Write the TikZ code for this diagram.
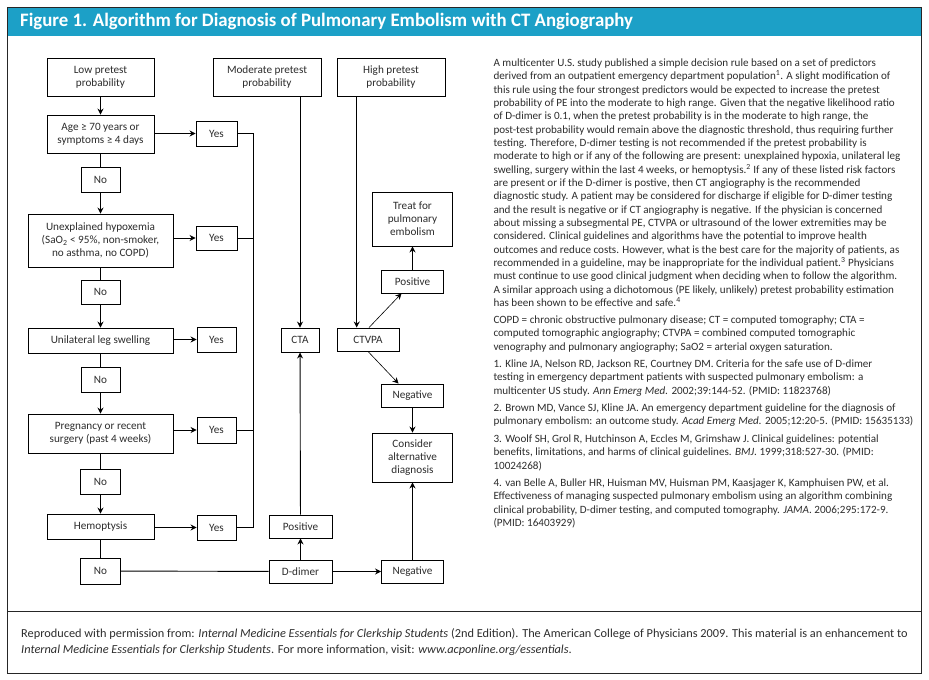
\documentclass[tikz,border=0pt]{standalone}
\usepackage{fontspec}
\setmainfont{Carlito}
\usetikzlibrary{arrows.meta}
\definecolor{titleblue}{RGB}{28,160,199}
\definecolor{txt}{RGB}{45,45,45}
\begin{document}
\begin{tikzpicture}[x=1pt,y=-1pt,
  box/.style={draw=black, line width=0.9pt, inner sep=0pt, align=center, text=txt, font=\fontsize{11.2}{13}\selectfont},
  arr/.style={-{Stealth[length=6pt,width=6pt]}, line width=0.9pt},
  ln/.style={line width=0.9pt},
  body/.style={anchor=north west, inner sep=0pt, align=left, text=txt, font=\fontsize{11.1}{13.33}\selectfont}]
\useasboundingbox (0,0) rectangle (929,680);
\fill[white] (0,0) rectangle (929,680);
\fill[titleblue] (7,7) rectangle (921.5,36);
\draw[line width=1pt, black!85] (7,7) rectangle (921.5,673);
\draw[line width=1pt, black!85] (7,611) -- (921.5,611);
\node[anchor=west, text=white, font=\bfseries\fontsize{19}{19}\selectfont, inner sep=0pt] (title) at (20,21.5)
  {\scalebox{0.99}[1]{Figure 1. Algorithm for Diagnosis of Pulmonary Embolism with CT Angiography}};

% flowchart nodes
\node[box, minimum width=107, minimum height=38] (low) at (100.5,77) {Low pretest\\probability};
\node[box, minimum width=108, minimum height=38] (mod) at (267,77) {Moderate pretest\\probability};
\node[box, minimum width=108, minimum height=38] (high) at (391,77) {High pretest\\probability};
\node[box, minimum width=107, minimum height=38] (age) at (100.5,134) {Age ≥ 70 years or\\symptoms ≥ 4 days};
\node[box, minimum width=41, minimum height=25] (yes1) at (216.5,133.5) {Yes};
\node[box, minimum width=39, minimum height=25] (no1) at (100.5,179.5) {No};
\node[box, minimum width=145, minimum height=53] (hyp) at (100.5,240.5) {Unexplained hypoxemia\\(SaO\textsubscript{2} < 95\%, non-smoker,\\no asthma, no COPD)};
\node[box, minimum width=41, minimum height=24] (yes2) at (216.5,238) {Yes};
\node[box, minimum width=39, minimum height=24] (no2) at (100.5,292) {No};
\node[box, minimum width=145, minimum height=25] (leg) at (100.5,340.5) {Unilateral leg swelling};
\node[box, minimum width=39, minimum height=25] (yes3) at (216.5,339.5) {Yes};
\node[box, minimum width=39, minimum height=25] (no3) at (100.5,379.5) {No};
\node[box, minimum width=145, minimum height=39] (preg) at (100.5,433.5) {Pregnancy or recent\\surgery (past 4 weeks)};
\node[box, minimum width=39, minimum height=26] (yes4) at (216.5,430) {Yes};
\node[box, minimum width=40, minimum height=25] (no4) at (100.5,481.5) {No};
\node[box, minimum width=107, minimum height=25] (hemo) at (100.5,526.5) {Hemoptysis};
\node[box, minimum width=39, minimum height=25] (yes5) at (216.5,527.5) {Yes};
\node[box, minimum width=40, minimum height=26] (no5) at (100.5,571) {No};
\node[box, minimum width=63, minimum height=23] (ddimer) at (300.5,571.5) {D-dimer};
\node[box, minimum width=63, minimum height=23] (pos1) at (300.5,526.5) {Positive};
\node[box, minimum width=62, minimum height=23] (neg1) at (412.5,571.5) {Negative};
\node[box, minimum width=80, minimum height=49] (cons) at (412.5,457.5) {Consider\\alternative\\diagnosis};
\node[box, minimum width=38, minimum height=24] (cta) at (300,340) {CTA};
\node[box, minimum width=62, minimum height=23] (ctvpa) at (368,339.5) {CTVPA};
\node[box, minimum width=80, minimum height=54] (treat) at (412.5,219) {Treat for\\pulmonary\\embolism};
\node[box, minimum width=62, minimum height=23] (pos2) at (412.5,281.5) {Positive};
\node[box, minimum width=62, minimum height=23] (neg2) at (412.5,395.5) {Negative};

\coordinate (c1) at (253,133.5);
\coordinate (c5) at (253,527.5);

% connectors
\draw[arr] (low) -- (age);
\draw[arr] (age.east |- yes1.west) -- (yes1.west);
\draw[ln] (age) -- (no1);
\draw[arr] (no1) -- (hyp);
\draw[arr] (hyp.east |- yes2.west) -- (yes2.west);
\draw[ln] (hyp) -- (no2);
\draw[arr] (no2) -- (leg);
\draw[arr] (leg.east |- yes3.west) -- (yes3.west);
\draw[ln] (leg) -- (no3);
\draw[arr] (no3) -- (preg);
\draw[arr] (preg.east |- yes4.west) -- (yes4.west);
\draw[ln] (preg) -- (no4);
\draw[arr] (no4) -- (hemo);
\draw[arr] (hemo.east |- yes5.west) -- (yes5.west);
\draw[ln] (hemo) -- (no5);
\draw[ln] (no5) -- (ddimer);
\draw[ln] (yes1.east) -- (c1) -- (c5) -- (yes5.east);
\draw[ln] (yes2.east) -- (yes2.east -| c1);
\draw[ln] (yes4.east) -- (yes4.east -| c1);
\draw[arr] (cta.north |- mod.south) -- (cta.north);
\draw[arr] ([xshift=-11.3pt]ctvpa.north |- high.south) -- ([xshift=-11.3pt]ctvpa.north);
\draw[arr, line width=0.6pt] ([xshift=1pt]ctvpa.north) -- ([xshift=-11pt]pos2.south);
\draw[arr, line width=0.6pt] (ctvpa.south) -- ([xshift=-14pt]neg2.north);
\draw[arr] (pos2) -- (treat);
\draw[arr] (neg2) -- (cons);
\draw[arr] (ddimer) -- (pos1);
\draw[arr] (pos1) -- (cta);
\draw[arr] (ddimer) -- (neg1);
\draw[arr] (neg1) -- (cons);

% right-hand text
\node[body] (para) at (493.3,58.5) {A multicenter U.S. study published a simple decision rule based on a set of predictors\\
derived from an outpatient emergency department population\textsuperscript{1}. A slight modification of\\
this rule using the four strongest predictors would be expected to increase the pretest\\
probability of PE into the moderate to high range. Given that the negative likelihood ratio\\
of D-dimer is 0.1, when the pretest probability is in the moderate to high range, the\\
post-test probability would remain above the diagnostic threshold, thus requiring further\\
testing. Therefore, D-dimer testing is not recommended if the pretest probability is\\
moderate to high or if any of the following are present: unexplained hypoxia, unilateral leg\\
swelling, surgery within the last 4 weeks, or hemoptysis.\textsuperscript{2} If any of these listed risk factors\\
are present or if the D-dimer is postive, then CT angiography is the recommended\\
diagnostic study. A patient may be considered for discharge if eligible for D-dimer testing\\
and the result is negative or if CT angiography is negative. If the physician is concerned\\
about missing a subsegmental PE, CTVPA or ultrasound of the lower extremities may be\\
considered. Clinical guidelines and algorithms have the potential to improve health\\
outcomes and reduce costs. However, what is the best care for the majority of patients, as\\
recommended in a guideline, may be inappropriate for the individual patient.\textsuperscript{3} Physicians\\
must continue to use good clinical judgment when deciding when to follow the algorithm.\\
A similar approach using a dichotomous (PE likely, unlikely) pretest probability estimation\\
has been shown to be effective and safe.\textsuperscript{4}};
\node[body] (abbr) at (493.3,315.5) {COPD = chronic obstructive pulmonary disease; CT = computed tomography; CTA =\\
computed tomographic angiography; CTVPA = combined computed tomographic\\
venography and pulmonary angiography; SaO2 = arterial oxygen saturation.};
\node[body] (ref1) at (493.3,359.5) {1. Kline JA, Nelson RD, Jackson RE, Courtney DM. Criteria for the safe use of D-dimer\\
testing in emergency department patients with suspected pulmonary embolism: a\\
multicenter US study. \textit{Ann Emerg Med.} 2002;39:144-52. (PMID: 11823768)};
\node[body] (ref2) at (493.3,403.5) {2. Brown MD, Vance SJ, Kline JA. An emergency department guideline for the diagnosis of\\
pulmonary embolism: an outcome study. \textit{Acad Emerg Med.} 2005;12:20-5. (PMID: 15635133)};
\node[body] (ref3) at (493.3,434.5) {3. Woolf SH, Grol R, Hutchinson A, Eccles M, Grimshaw J. Clinical guidelines: potential\\
benefits, limitations, and harms of clinical guidelines. \textit{BMJ}. 1999;318:527-30. (PMID:\\
10024268)};
\node[body] (ref4) at (493.3,478.5) {4. van Belle A, Buller HR, Huisman MV, Huisman PM, Kaasjager K, Kamphuisen PW, et al.\\
Effectiveness of managing suspected pulmonary embolism using an algorithm combining\\
clinical probability, D-dimer testing, and computed tomography. \textit{JAMA}. 2006;295:172-9.\\
(PMID: 16403929)};

% footer
\node[anchor=north west, inner sep=0pt, align=left, text=txt, font=\fontsize{12.2}{16}\selectfont] (foot) at (21,628)
 {\scalebox{1.01}[1]{Reproduced with permission from: \textit{Internal Medicine Essentials for Clerkship Students} (2nd Edition). The American College of Physicians 2009. This material is an enhancement to}\\
 \scalebox{1.01}[1]{\textit{Internal Medicine Essentials for Clerkship Students}. For more information, visit: \textit{www.acponline.org/essentials}.}};
\end{tikzpicture}
\end{document}
